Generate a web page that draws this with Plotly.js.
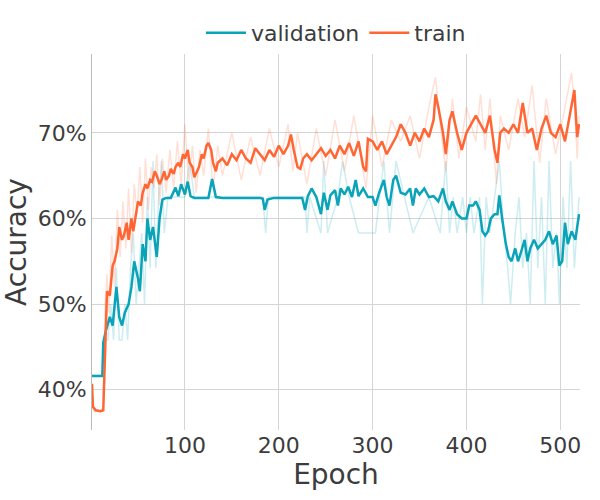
<!DOCTYPE html>
<html>
<head>
<script src="https://cdn.plot.ly/plotly-3.0.1.min.js"></script>
<style>body{margin:0}#chart{width:600px;height:500px}</style>
</head>
<body>
<div id="chart"></div>
<script>
// smoothed curves (accuracy in %)
var valEpoch = [1,5,10,12,13,16,20,23,27,30,33,36,40,43,46,50,52,55,58,60,63,66,70,73,76,80,85,90,93,96,100,103,106,110,115,120,125,129,133,140,150,160,170,180,183,185,188,195,205,215,225,228,231,235,240,245,248,252,255,260,263,266,270,274,278,282,285,290,295,300,303,307,312,315,318,322,325,330,335,340,343,346,350,355,360,365,370,375,378,382,385,390,395,400,403,407,410,414,417,420,423,426,430,433,435,438,442,445,448,452,455,458,462,465,468,472,476,480,484,488,492,496,499,502,505,508,512,516,520]
var valAcc = [41.6,41.6,41.6,41.6,45.5,47,48.5,47.5,52,48.5,47.5,49,50,52,55,53,51.5,57,55,60,57.5,59,55.5,60,62.2,62.4,62.4,63.6,62.6,64,62.8,64.3,62.6,62.4,62.4,62.4,62.4,64.6,62.5,62.4,62.4,62.4,62.4,62.4,62.3,61,62.2,62.4,62.4,62.4,62.4,61,62.6,63.5,62.5,60.5,63,61,62.7,63.3,61.5,63.5,62.8,63.7,62.5,64.5,62.6,63.5,62.5,62.5,61.5,63,64.5,62.5,61.5,64.5,65,63,62.8,63.5,61.5,63.5,62.8,63.5,62.5,62.6,62,63.5,62,61,62,60.5,60,60,61.5,61.5,62,61,58.5,58,58.5,60,60.5,60.5,62.7,60,57,55.5,55,56.5,55,56,57.5,55,56.5,57.5,56.5,57,57.5,58.5,57,58,54.5,55,59.5,57,58.5,57.5,60.5]
var trainEpoch = [1,2,5,10,13,15,17,20,23,25,28,30,33,35,38,40,43,45,48,50,53,55,58,60,63,65,68,70,73,75,78,80,83,85,88,90,93,95,98,100,103,105,108,110,113,115,118,120,123,125,128,130,133,135,140,145,150,155,160,165,170,175,180,185,190,195,200,205,210,213,216,220,223,226,230,235,240,245,250,255,260,265,270,275,280,285,290,293,295,300,305,310,315,320,325,330,335,340,345,350,355,360,365,367,370,375,378,382,385,390,395,400,405,410,415,420,425,430,433,436,440,445,450,455,460,465,470,475,480,485,490,495,500,505,510,515,518,520]
var trainAcc = [40.7,38,37.6,37.5,37.6,45,51.5,51,54.5,55,56.5,59,57.5,58,59.5,57.5,60,58.5,61,62,61.5,63,64,63.5,64.5,64.3,65.5,65,64,64.5,65.5,64.5,65,65.8,65.2,66,66.5,66,67.5,67,68,66.5,66,64.8,65.5,66,67.5,67,68.5,68.8,68,66.5,65.5,66.5,67,66.2,67.5,66.8,68,67,66.5,68.2,67.5,66.8,68,67.2,68.5,67.5,68.5,69.8,68,66,65.8,67,67.5,66.8,67.5,68.2,67.3,68,67,68.5,67.5,68.8,67.3,69,66,65.5,69.3,69,68,69,67.5,68.5,69.5,71,70,68.5,70,69,70.5,69.5,71.5,74.5,73,70,67.5,71.5,72.5,70,68,70,71,72,71,70,72,68,66.5,70,70.5,70,71,70,73.5,70,70.5,68,70.5,72,70,69.5,71,69,72,75,69.5,71]
// raw (unsmoothed) curves, drawn faint
var valRawEpoch = [1,12,14,18,21,24,27,30,33,36,39,42,45,48,51,54,57,60,63,66,69,72,75,78,82,86,90,95,100,105,110,130,183,186,189,228,230,233,245,248,252,263,268,275,285,303,312,318,325,343,360,372,378,382,386,390,396,400,404,408,414,417,421,425,430,435,440,444,447,452,456,460,464,468,472,476,480,484,488,492,496,499,503,507,511,515,520]
var valRaw = [41.7,41.7,45.8,45.8,50,45.8,54.2,45.8,45.8,50,45.8,54.2,58.3,50,54.2,58.3,50,62.5,54.2,66.7,54.2,62.5,66.7,58.3,62.5,62.5,62.5,62.5,62.5,66.7,62.5,62.5,62.5,58.3,62.5,62.5,58.3,62.5,58.3,66.7,58.3,62.5,66.7,62.5,58.3,58.3,66.7,58.3,66.7,58.3,62.5,58.3,66.7,58.3,62.5,58.3,62.5,58.3,62.5,58.3,62.5,50,62.5,58.3,62.5,66.7,58.3,54.2,50,58.3,62.5,54.2,58.3,50,66.7,54.2,62.5,50,66.7,54.2,58.3,50,62.5,54.2,66.7,54.2,62.5]
var trainRawEpoch = [1,3,8,13,15,17,19,22,25,28,31,34,37,40,43,46,49,52,55,58,61,64,67,70,73,76,80,84,88,92,96,100,104,108,112,116,120,125,130,135,140,150,160,170,180,190,200,210,215,220,230,240,250,260,270,280,290,293,300,310,320,330,340,350,360,367,372,378,385,392,400,410,415,420,425,432,436,445,455,462,470,478,485,495,505,512,515,518,520]
var trainRaw = [40,37.5,37.5,37.8,50,53.5,49,58,52,61,55.5,62,56.5,63.5,56,64,60.5,66,59.5,67,61,66,63.5,67.5,61.5,67,63,68,63.5,69,64,71,64,68.5,63,68,65,70.5,63.5,68.5,65,70,64.5,69.5,65,70.5,66,71,65.5,70,64,70.5,65,71.5,65.5,72,65.5,63.5,72,66,71.5,69,72,67,73,76.5,71,65.5,74,67,73,69,74.5,68,74,64,72,68,74,69.5,75.5,66.5,74,67.5,73,77,73.5,67,72]
var yTicks = [40, 50, 60, 70]
var yTickText = ['40%', '50%', '60%', '70%']

var teal = '#0aa3b8', orange = '#ff6633'
var data = [
    {x: valRawEpoch, y: valRaw, mode: 'lines', line: {color: teal, width: 1.5}, opacity: 0.2, showlegend: false, hoverinfo: 'skip'},
    {x: trainRawEpoch, y: trainRaw, mode: 'lines', line: {color: orange, width: 1.5}, opacity: 0.2, showlegend: false, hoverinfo: 'skip'},
    {x: valEpoch, y: valAcc, name: 'validation', mode: 'lines', line: {color: teal, width: 2.5}},
    {x: trainEpoch, y: trainAcc, name: 'train', mode: 'lines', line: {color: orange, width: 2.5}}
]
var layout = {
    width: 600, height: 500,
    margin: {l: 92, r: 20, t: 50, b: 70},
    font: {family: 'DejaVu Sans', size: 22, color: '#3c3c3c'},
    plot_bgcolor: 'white', paper_bgcolor: 'white',
    showlegend: true,
    legend: {orientation: 'h', x: 0.5, xanchor: 'center', y: 1.0, yanchor: 'bottom', font: {size: 22}, itemwidth: 40},
    xaxis: {range: [1, 521], tickvals: [100, 200, 300, 400, 500], gridcolor: '#d5d5d5', zeroline: false,
        showline: false, title: {text: 'Epoch', font: {size: 28}, standoff: 6}},
    yaxis: {range: [35.3, 79.2], tickvals: yTicks, ticktext: yTickText, gridcolor: '#d5d5d5', zeroline: false,
        showline: true, linecolor: '#bbb', title: {text: 'Accuracy', font: {size: 28}, standoff: 6}}
}
Plotly.newPlot('chart', data, layout, {displayModeBar: false, staticPlot: true})
</script>
</body>
</html>
